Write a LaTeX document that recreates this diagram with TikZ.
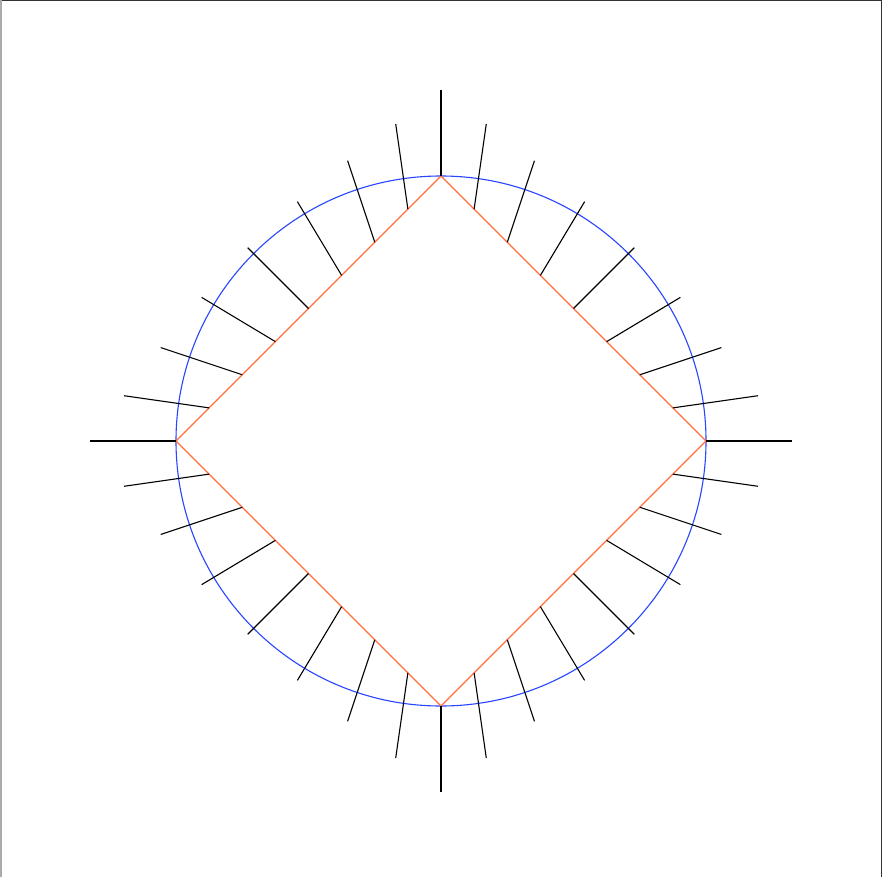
\documentclass[tikz,border=0pt]{standalone}
\definecolor{circblue}{RGB}{40,70,255}
\definecolor{sqorange}{RGB}{255,110,60}
\definecolor{framedark}{RGB}{50,50,50}
\definecolor{framelight}{RGB}{170,170,170}
\tikzset{
  spoke/.style={black, line width=1.1pt},
  circ/.style={circblue, line width=1.1pt},
  sq/.style={sqorange, line width=1.1pt},
}
\begin{document}
\begin{tikzpicture}[x=1pt,y=-1pt]
\useasboundingbox (0,0) rectangle (882,877);
\fill[white] (0,0) rectangle (882,877);
\draw[framedark, line width=1.5pt] (0,0.75) -- (882,0.75);
\draw[framedark, line width=1.5pt] (881.25,0) -- (881.25,877);
\draw[framelight, line width=1.5pt] (0.75,0) -- (0.75,877);
\coordinate (c) at (441,441);
\draw[circ] (c) circle (265);
\coordinate (t) at (441,176);
\coordinate (r) at (706,441);
\coordinate (b) at (441,706);
\coordinate (l) at (176,441);
\draw[sq] (t) -- (r) -- (b) -- (l) -- cycle;
\foreach \axx/\bxx/\ayy/\byy in {1/0/0/-1, 0/1/1/0, -1/0/0/1, 0/-1/-1/0}{
  \foreach \k in {0,...,7}{
    \pgfmathsetmacro{\px}{\axx*\k/8+\bxx*(8-\k)/8}
    \pgfmathsetmacro{\py}{\ayy*\k/8+\byy*(8-\k)/8}
    \pgfmathsetmacro{\d}{sqrt(\px*\px+\py*\py)}
    \pgfmathsetmacro{\ax}{441+265*\px}
    \pgfmathsetmacro{\ay}{441+265*\py}
    \pgfmathsetmacro{\ex}{\ax+86*\px/\d}
    \pgfmathsetmacro{\ey}{\ay+86*\py/\d}
    \coordinate (s1) at (\ax,\ay);
    \coordinate (s2) at (\ex,\ey);
    \draw[spoke] (s1) -- (s2);
  }
}
\end{tikzpicture}
\end{document}
